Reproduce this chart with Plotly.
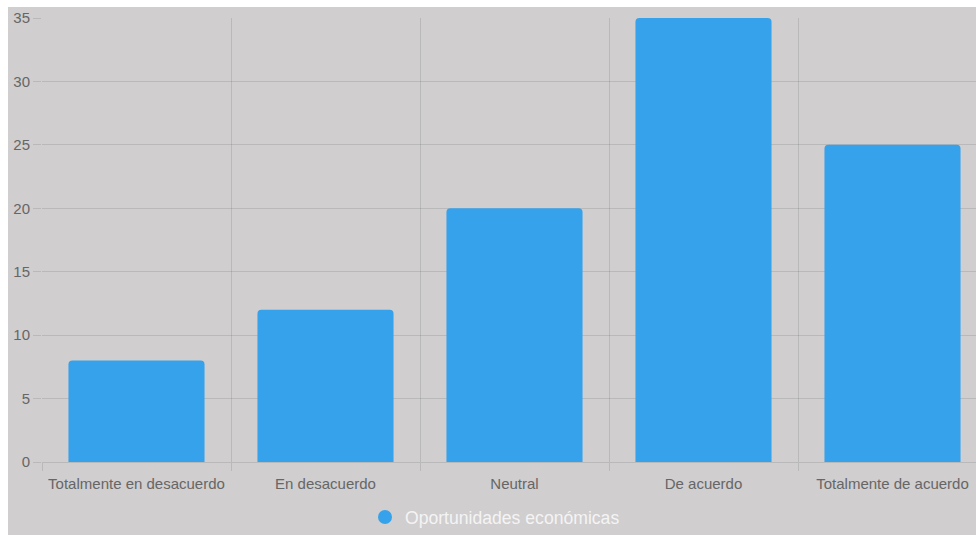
import plotly.graph_objects as go

categories = ["Totalmente en desacuerdo", "En desacuerdo", "Neutral", "De acuerdo", "Totalmente de acuerdo"]
values = [8, 12, 20, 35, 25]
series_name = "Oportunidades económicas"
y_ticks = [0, 5, 10, 15, 20, 25, 30, 35]

BG = "#d0cecf"
GRID = "rgba(0,0,0,0.1)"
TXT = "#666666"
BLUE = "#36a2eb"

W, H = 976, 535
L, T = 42, 18
plot_bottom = 462
B = H - plot_bottom
plot_w = W - L
plot_h = plot_bottom - T
cat_px = 189.0

x_pos = list(range(len(categories)))
fig = go.Figure()
fig.add_trace(go.Bar(x=x_pos, y=values, width=0.72, marker=dict(color=BLUE, line=dict(width=0)),
                     name=series_name, showlegend=False, hoverinfo="skip"))
fig.add_trace(go.Scatter(x=[None], y=[None], mode="markers", name=series_name,
                         marker=dict(symbol="circle", size=14, color=BLUE)))

x_max = -0.5 + plot_w / cat_px

fig.update_layout(
    width=W, height=H,
    margin=dict(l=L, r=0, t=T, b=B, pad=0),
    paper_bgcolor="white",
    plot_bgcolor="rgba(0,0,0,0)",
    font=dict(family="Liberation Sans, Arial, sans-serif", size=15, color=TXT),
    barcornerradius=4,
    showlegend=True,
    hovermode=False,
    legend=dict(orientation="h", xanchor="left", yanchor="middle",
                x=(365 - L) / plot_w, y=-55.5 / plot_h,
                font=dict(size=17.6, color="#f4f4f4"), bgcolor="rgba(0,0,0,0)"),
    shapes=[dict(type="rect", xref="paper", yref="paper", layer="below",
                 x0=(8 - L) / plot_w, x1=1.05, y0=-(B + 10) / plot_h, y1=(plot_bottom - 7) / plot_h,
                 fillcolor=BG, line=dict(width=0))],
)

fig.update_xaxes(
    range=[-0.5, x_max], tickmode="array", tickvals=x_pos, ticktext=categories,
    showgrid=False, zeroline=False, showline=False,
    ticks="outside", ticklen=8, tickcolor="rgba(0,0,0,0)",
    minor=dict(tickmode="array", tickvals=[i - 0.5 for i in range(len(categories) + 1)],
               showgrid=True, gridcolor=GRID, gridwidth=1,
               ticks="outside", ticklen=8, tickcolor=GRID),
    fixedrange=True,
)
fig.update_yaxes(
    range=[0, 35], tickmode="array", tickvals=y_ticks,
    showgrid=True, gridcolor=GRID, gridwidth=1,
    zeroline=True, zerolinecolor=GRID, zerolinewidth=1, showline=False,
    ticks="outside", ticklen=8, tickcolor=GRID,
    fixedrange=True,
)

fig.write_html("out.html", config={"displayModeBar": False},
               post_script="document.body.style.margin='0';document.documentElement.style.overflow='hidden';")
